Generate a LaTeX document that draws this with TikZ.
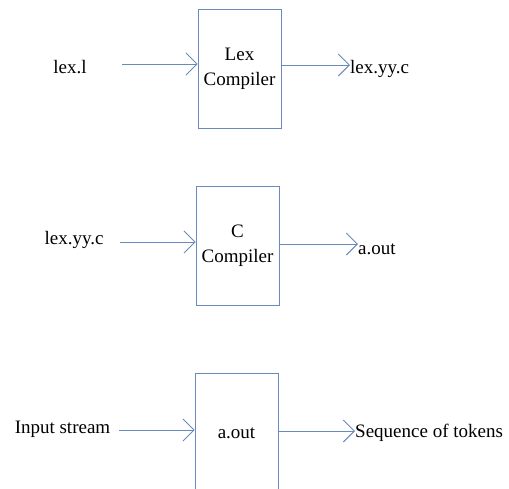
\documentclass[tikz,border=0pt]{standalone}
\usepackage{fontspec}
\setmainfont{Liberation Serif}
\usetikzlibrary{arrows.meta}
\definecolor{edge}{RGB}{105,138,186}
\begin{document}
\begin{tikzpicture}[x=1pt,y=-1pt,
  stage/.style={draw=edge,line width=0.9pt,minimum width=83pt,inner sep=0pt,align=center,font=\rmfamily\fontsize{19}{25}\selectfont},
  lbl/.style={inner sep=0pt,font=\rmfamily\fontsize{19}{23}\selectfont},
  flow/.style={draw=edge,line width=0.9pt,-{Straight Barb[length=11pt,width=22pt,line width=0.9pt]}}]
\useasboundingbox (0,0) rectangle (509,488);
% stage 1: lex compiler
\node[stage,minimum height=119pt] (lexc) at (239.5,68.5) {Lex\\Compiler};
\node[lbl] (lexl) at (70,67) {lex.l};
\node[lbl,anchor=west] (lexyy) at (350,69) {lex.yy.c};
\coordinate (in1) at (122,64);
\draw[flow] (in1) -- (lexc.west |- in1);
\draw[flow] (lexc.east |- 0,65) -- (lexyy.west |- 0,65);
% stage 2: C compiler
\node[stage,minimum height=119pt] (cc) at (237.5,245.5) {C\\Compiler};
\node[lbl] (lexyy2) at (74,240) {lex.yy.c};
\node[lbl,anchor=west] (aout) at (358,249) {a.out};
\coordinate (in2) at (120,242);
\draw[flow] (in2) -- (cc.west |- in2);
\draw[flow] (cc.east |- 0,244) -- (aout.west |- 0,244);
% stage 3: the generated scanner
\node[stage,minimum height=120pt] (run) at (236.5,433) {a.out};
\node[lbl] (input) at (62.5,429) {Input stream};
\node[lbl,anchor=west] (tokens) at (355,433) {Sequence of tokens};
\coordinate (in3) at (119,430);
\draw[flow] (in3) -- (run.west |- in3);
\draw[flow] (run.east |- 0,431) -- (tokens.west |- 0,431);
\end{tikzpicture}
\end{document}
